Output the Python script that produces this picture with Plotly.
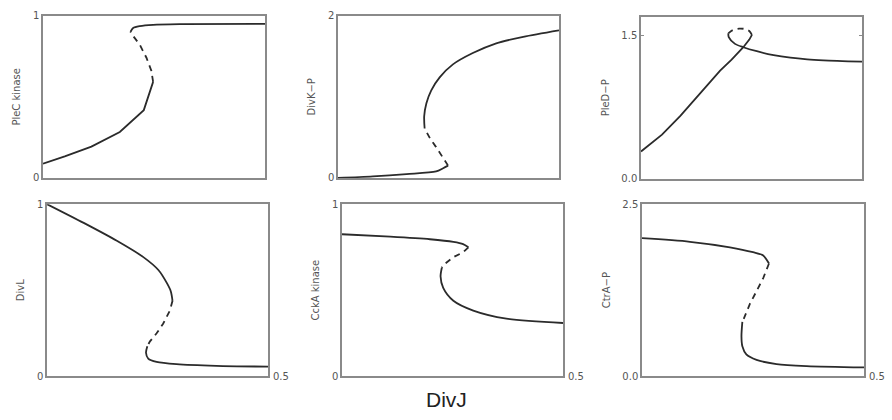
import plotly.graph_objects as go

# ---------------- data ----------------
x_range = [0, 0.5]
x_label = "DivJ"
x_end_label = "0.5"

panel_titles = ["PleC kinase", "DivK\u2212P", "PleD\u2212P", "DivL", "CckA kinase", "CtrA\u2212P"]
y_tops = [1, 2, 1.7, 1, 1, 2.5]
y_tickvals = [[0, 1], [0, 2], [0, 1.5], [0, 1], [0, 1], [0, 2.5]]
y_ticktext = [["0", "1"], ["0", "2"], ["0.0", "1.5"], ["0", "1"], ["0", "1"], ["0.0", "2.5"]]

# Panel 1: PleC kinase
plec_lo_x = [0, 0.049, 0.109, 0.173, 0.227, 0.248]
plec_lo_y = [0.088, 0.133, 0.193, 0.283, 0.418, 0.592]
plec_un_x = [0.248, 0.244, 0.233, 0.218, 0.199, 0.197]
plec_un_y = [0.592, 0.661, 0.741, 0.821, 0.890, 0.900]
plec_hi_x = [0.197, 0.203, 0.218, 0.248, 0.316, 0.5]
plec_hi_y = [0.900, 0.924, 0.936, 0.944, 0.948, 0.950]

# Panel 2: DivK-P
divk_lo_x = [0, 0.079, 0.155, 0.222, 0.238, 0.249]
divk_lo_y = [0, 0.02, 0.048, 0.08, 0.12, 0.152]
divk_un_x = [0.249, 0.236, 0.222, 0.208, 0.196]
divk_un_y = [0.152, 0.27, 0.38, 0.49, 0.61]
divk_hi_x = [0.196, 0.195, 0.2, 0.211, 0.23, 0.26, 0.305, 0.358, 0.419, 0.5]
divk_hi_y = [0.61, 0.76, 0.92, 1.08, 1.24, 1.4, 1.54, 1.66, 1.74, 1.82]

# Panel 3: PleD-P
pled_lo_x = [0, 0.0475, 0.089, 0.134, 0.179, 0.205, 0.2315, 0.245, 0.251]
pled_lo_y = [0.288, 0.464, 0.660, 0.897, 1.134, 1.25, 1.38, 1.46, 1.51]
pled_un_x = [0.251, 0.245, 0.234, 0.222, 0.208, 0.1975]
pled_un_y = [1.51, 1.55, 1.572, 1.575, 1.56, 1.525]
pled_hi_x = [0.1975, 0.1985, 0.2127, 0.2315, 0.262, 0.300, 0.338, 0.376, 0.413, 0.5]
pled_hi_y = [1.525, 1.487, 1.415, 1.38, 1.338, 1.297, 1.27, 1.253, 1.243, 1.229]

# Panel 4: DivL
divl_hi_x = [0, 0.083, 0.158, 0.218, 0.252, 0.271, 0.28, 0.284]
divl_hi_y = [1.0, 0.891, 0.787, 0.692, 0.617, 0.542, 0.494, 0.438]
divl_un_x = [0.284, 0.278, 0.263, 0.248, 0.233, 0.227]
divl_un_y = [0.438, 0.381, 0.306, 0.249, 0.202, 0.174]
divl_lo_x = [0.227, 0.224, 0.229, 0.248, 0.293, 0.383, 0.5]
divl_lo_y = [0.174, 0.136, 0.102, 0.083, 0.07, 0.06, 0.055]

# Panel 5: CckA kinase
ccka_hi_x = [0, 0.109, 0.199, 0.252, 0.274, 0.286]
ccka_hi_y = [0.825, 0.811, 0.796, 0.781, 0.768, 0.749]
ccka_un_x = [0.286, 0.274, 0.252, 0.229, 0.226]
ccka_un_y = [0.749, 0.72, 0.692, 0.645, 0.632]
ccka_lo_x = [0.226, 0.223, 0.229, 0.252, 0.297, 0.372, 0.5]
ccka_lo_y = [0.632, 0.579, 0.513, 0.438, 0.381, 0.334, 0.309]

# Panel 6: CtrA-P
ctra_hi_x = [0, 0.108, 0.198, 0.25, 0.273, 0.286]
ctra_hi_y = [2.005, 1.953, 1.873, 1.802, 1.755, 1.637]
ctra_un_x = [0.286, 0.273, 0.258, 0.243, 0.229, 0.226]
ctra_un_y = [1.637, 1.425, 1.236, 1.05, 0.83, 0.788]
ctra_lo_x = [0.226, 0.224, 0.226, 0.235, 0.258, 0.303, 0.371, 0.5]
ctra_lo_y = [0.788, 0.575, 0.434, 0.316, 0.236, 0.175, 0.146, 0.127]

panels = [
    [(plec_lo_x, plec_lo_y, "solid", "linear"), (plec_un_x, plec_un_y, "dash", "linear"), (plec_hi_x, plec_hi_y, "solid", "spline")],
    [(divk_lo_x, divk_lo_y, "solid", "spline"), (divk_un_x, divk_un_y, "dash", "linear"), (divk_hi_x, divk_hi_y, "solid", "spline")],
    [(pled_lo_x, pled_lo_y, "solid", "linear"), (pled_un_x, pled_un_y, "dash", "spline"), (pled_hi_x, pled_hi_y, "solid", "spline")],
    [(divl_hi_x, divl_hi_y, "solid", "spline"), (divl_un_x, divl_un_y, "dash", "linear"), (divl_lo_x, divl_lo_y, "solid", "spline")],
    [(ccka_hi_x, ccka_hi_y, "solid", "spline"), (ccka_un_x, ccka_un_y, "dash", "linear"), (ccka_lo_x, ccka_lo_y, "solid", "spline")],
    [(ctra_hi_x, ctra_hi_y, "solid", "spline"), (ctra_un_x, ctra_un_y, "dash", "linear"), (ctra_lo_x, ctra_lo_y, "solid", "spline")],
]

# ---------------- layout geometry (pixels) ----------------
W, H = 892, 420
boxes = [  # left, right, top, bottom in px
    (43, 265, 10, 177), (338, 559, 10, 177), (641, 862, 11, 178),
    (47, 268, 204, 381), (342, 563, 204, 381), (642, 864, 204, 381),
]

LINE_COLOR = "#2b2b2b"
BOX_COLOR = "#8a8a8a"
TXT_COLOR = "#555555"

fig = go.Figure()
layout = dict(
    width=W, height=H, margin=dict(l=0, r=0, t=0, b=0),
    paper_bgcolor="white", plot_bgcolor="white", showlegend=False,
    font=dict(family="DejaVu Sans", size=10, color=TXT_COLOR),
)
annotations = []

for i, branches in enumerate(panels):
    n = i + 1
    xa = "x" if n == 1 else f"x{n}"
    ya = "y" if n == 1 else f"y{n}"
    for bx, by, dash, shape in branches:
        fig.add_trace(go.Scatter(
            x=bx, y=by, mode="lines", xaxis=xa, yaxis=ya,
            line=dict(color=LINE_COLOR, width=1.8,
                      dash="6px,5px" if dash == "dash" else "solid",
                      shape=shape, smoothing=0.8 if shape == "spline" else None),
            hoverinfo="skip",
        ))
    l, r, t, b = boxes[i]
    xkey = "xaxis" if n == 1 else f"xaxis{n}"
    ykey = "yaxis" if n == 1 else f"yaxis{n}"
    layout[xkey] = dict(
        domain=[l / W, r / W], anchor=ya, range=x_range,
        showgrid=False, zeroline=False, showticklabels=False, ticks="",
        showline=True, linecolor=BOX_COLOR, linewidth=1.5, mirror=True,
    )
    layout[ykey] = dict(
        domain=[1 - b / H, 1 - t / H], anchor=xa, range=[0, y_tops[i]],
        showgrid=False, zeroline=False,
        tickmode="array", tickvals=y_tickvals[i], ticktext=y_ticktext[i],
        ticks="inside", ticklen=3, tickcolor=BOX_COLOR, tickwidth=1,
        tickfont=dict(family="DejaVu Sans", size=10, color=TXT_COLOR),
        showline=True, linecolor=BOX_COLOR, linewidth=1.5, mirror="ticks",
        title=dict(text=panel_titles[i], standoff=10,
                   font=dict(family="DejaVu Sans", size=10, color=TXT_COLOR)),
    )
    if n >= 4:
        annotations.append(dict(
            text=x_end_label, xref=f"{xa} domain", yref=f"{ya} domain",
            x=1, y=0, xanchor="left", yanchor="middle", xshift=3, showarrow=False,
            font=dict(family="DejaVu Sans", size=10, color=TXT_COLOR),
        ))

annotations.append(dict(
    text=x_label, xref="paper", yref="paper", x=0.5, y=1 - 405 / H,
    xanchor="center", yanchor="middle", showarrow=False,
    font=dict(family="Liberation Sans", size=21, color="#222222"),
))
layout["annotations"] = annotations
fig.update_layout(**layout)
fig.write_html("out.html")
